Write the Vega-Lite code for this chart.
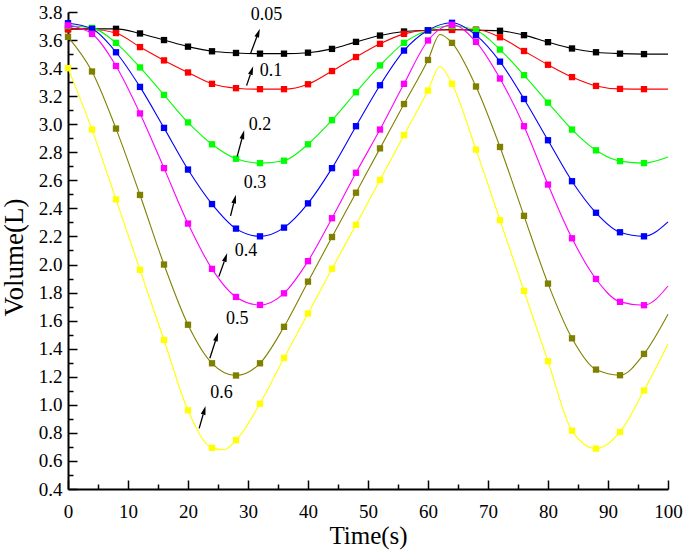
{
  "$schema": "https://vega.github.io/schema/vega-lite/v6.json",
  "width": 600,
  "height": 477,
  "autosize": {"type": "none"},
  "padding": {"left": 68, "top": 12, "right": 17, "bottom": 62},
  "background": "white",
  "config": {
    "view": {"stroke": null},
    "axis": {
      "labelFont": "Liberation Serif",
      "titleFont": "Liberation Serif",
      "labelColor": "black",
      "titleColor": "black",
      "titleFontWeight": "normal",
      "domainColor": "black",
      "tickColor": "black",
      "grid": false
    }
  },
  "datasets": {
    "curves": [
      {"s":"0.05","kind":"sample","t":0,"v":3.68},{"s":"0.05","kind":"sample","t":4,"v":3.68},{"s":"0.05","kind":"sample","t":8,"v":3.68},{"s":"0.05","kind":"sample","t":12,"v":3.647},{"s":"0.05","kind":"sample","t":16,"v":3.6},{"s":"0.05","kind":"sample","t":20,"v":3.553},{"s":"0.05","kind":"sample","t":24,"v":3.52},{"s":"0.05","kind":"sample","t":28,"v":3.508},{"s":"0.05","kind":"sample","t":32,"v":3.503},{"s":"0.05","kind":"sample","t":36,"v":3.503},{"s":"0.05","kind":"sample","t":40,"v":3.51},{"s":"0.05","kind":"sample","t":44,"v":3.537},{"s":"0.05","kind":"sample","t":48,"v":3.587},{"s":"0.05","kind":"sample","t":52,"v":3.632},{"s":"0.05","kind":"sample","t":56,"v":3.661},{"s":"0.05","kind":"sample","t":60,"v":3.67},{"s":"0.05","kind":"sample","t":64,"v":3.675},{"s":"0.05","kind":"sample","t":68,"v":3.67},{"s":"0.05","kind":"sample","t":72,"v":3.666},{"s":"0.05","kind":"sample","t":76,"v":3.635},{"s":"0.05","kind":"sample","t":80,"v":3.585},{"s":"0.05","kind":"sample","t":84,"v":3.54},{"s":"0.05","kind":"sample","t":88,"v":3.513},{"s":"0.05","kind":"sample","t":92,"v":3.503},{"s":"0.05","kind":"sample","t":96,"v":3.5},{"s":"0.05","kind":"fit","t":100,"v":3.5},

      {"s":"0.1","kind":"sample","t":0,"v":3.675},{"s":"0.1","kind":"sample","t":4,"v":3.675},{"s":"0.1","kind":"sample","t":8,"v":3.65},{"s":"0.1","kind":"sample","t":12,"v":3.55},{"s":"0.1","kind":"sample","t":16,"v":3.455},{"s":"0.1","kind":"sample","t":20,"v":3.369},{"s":"0.1","kind":"sample","t":24,"v":3.288},{"s":"0.1","kind":"sample","t":28,"v":3.257},{"s":"0.1","kind":"sample","t":32,"v":3.25},{"s":"0.1","kind":"sample","t":36,"v":3.25},{"s":"0.1","kind":"sample","t":40,"v":3.285},{"s":"0.1","kind":"sample","t":44,"v":3.379},{"s":"0.1","kind":"sample","t":48,"v":3.479},{"s":"0.1","kind":"sample","t":52,"v":3.573},{"s":"0.1","kind":"sample","t":56,"v":3.644},{"s":"0.1","kind":"sample","t":60,"v":3.67},{"s":"0.1","kind":"sample","t":64,"v":3.672},{"s":"0.1","kind":"sample","t":68,"v":3.675},{"s":"0.1","kind":"sample","t":72,"v":3.62},{"s":"0.1","kind":"sample","t":76,"v":3.522},{"s":"0.1","kind":"sample","t":80,"v":3.424},{"s":"0.1","kind":"sample","t":84,"v":3.336},{"s":"0.1","kind":"sample","t":88,"v":3.273},{"s":"0.1","kind":"sample","t":92,"v":3.252},{"s":"0.1","kind":"sample","t":96,"v":3.25},{"s":"0.1","kind":"fit","t":100,"v":3.25},

      {"s":"0.2","kind":"sample","t":0,"v":3.7},{"s":"0.2","kind":"sample","t":4,"v":3.687},{"s":"0.2","kind":"sample","t":8,"v":3.58},{"s":"0.2","kind":"sample","t":12,"v":3.405},{"s":"0.2","kind":"sample","t":16,"v":3.209},{"s":"0.2","kind":"sample","t":20,"v":3.013},{"s":"0.2","kind":"sample","t":24,"v":2.857},{"s":"0.2","kind":"sample","t":28,"v":2.754},{"s":"0.2","kind":"sample","t":32,"v":2.723},{"s":"0.2","kind":"sample","t":36,"v":2.74},{"s":"0.2","kind":"sample","t":40,"v":2.857},{"s":"0.2","kind":"sample","t":44,"v":3.029},{"s":"0.2","kind":"sample","t":48,"v":3.228},{"s":"0.2","kind":"sample","t":52,"v":3.419},{"s":"0.2","kind":"sample","t":56,"v":3.58},{"s":"0.2","kind":"sample","t":60,"v":3.67},{"s":"0.2","kind":"sample","t":64,"v":3.7},{"s":"0.2","kind":"sample","t":68,"v":3.67},{"s":"0.2","kind":"sample","t":72,"v":3.532},{"s":"0.2","kind":"sample","t":76,"v":3.35},{"s":"0.2","kind":"sample","t":80,"v":3.154},{"s":"0.2","kind":"sample","t":84,"v":2.962},{"s":"0.2","kind":"sample","t":88,"v":2.814},{"s":"0.2","kind":"sample","t":92,"v":2.737},{"s":"0.2","kind":"sample","t":96,"v":2.723},{"s":"0.2","kind":"fit","t":100,"v":2.766},

      {"s":"0.3","kind":"sample","t":0,"v":3.72},{"s":"0.3","kind":"sample","t":4,"v":3.68},{"s":"0.3","kind":"sample","t":8,"v":3.513},{"s":"0.3","kind":"sample","t":12,"v":3.266},{"s":"0.3","kind":"sample","t":16,"v":2.974},{"s":"0.3","kind":"sample","t":20,"v":2.677},{"s":"0.3","kind":"sample","t":24,"v":2.431},{"s":"0.3","kind":"sample","t":28,"v":2.256},{"s":"0.3","kind":"sample","t":32,"v":2.201},{"s":"0.3","kind":"sample","t":36,"v":2.263},{"s":"0.3","kind":"sample","t":40,"v":2.436},{"s":"0.3","kind":"sample","t":44,"v":2.687},{"s":"0.3","kind":"sample","t":48,"v":2.986},{"s":"0.3","kind":"sample","t":52,"v":3.278},{"s":"0.3","kind":"sample","t":56,"v":3.525},{"s":"0.3","kind":"sample","t":60,"v":3.67},{"s":"0.3","kind":"sample","t":64,"v":3.723},{"s":"0.3","kind":"sample","t":68,"v":3.635},{"s":"0.3","kind":"sample","t":72,"v":3.446},{"s":"0.3","kind":"sample","t":76,"v":3.18},{"s":"0.3","kind":"sample","t":80,"v":2.886},{"s":"0.3","kind":"sample","t":84,"v":2.594},{"s":"0.3","kind":"sample","t":88,"v":2.369},{"s":"0.3","kind":"sample","t":92,"v":2.23},{"s":"0.3","kind":"sample","t":96,"v":2.201},{"s":"0.3","kind":"fit","t":100,"v":2.304},

      {"s":"0.4","kind":"sample","t":0,"v":3.705},{"s":"0.4","kind":"sample","t":4,"v":3.644},{"s":"0.4","kind":"sample","t":8,"v":3.415},{"s":"0.4","kind":"sample","t":12,"v":3.077},{"s":"0.4","kind":"sample","t":16,"v":2.687},{"s":"0.4","kind":"sample","t":20,"v":2.292},{"s":"0.4","kind":"sample","t":24,"v":1.969},{"s":"0.4","kind":"sample","t":28,"v":1.769},{"s":"0.4","kind":"sample","t":32,"v":1.712},{"s":"0.4","kind":"sample","t":36,"v":1.795},{"s":"0.4","kind":"sample","t":40,"v":2.024},{"s":"0.4","kind":"sample","t":44,"v":2.33},{"s":"0.4","kind":"sample","t":48,"v":2.654},{"s":"0.4","kind":"sample","t":52,"v":2.962},{"s":"0.4","kind":"sample","t":56,"v":3.288},{"s":"0.4","kind":"sample","t":60,"v":3.597},{"s":"0.4","kind":"sample","t":64,"v":3.709},{"s":"0.4","kind":"sample","t":68,"v":3.587},{"s":"0.4","kind":"sample","t":72,"v":3.326},{"s":"0.4","kind":"sample","t":76,"v":2.986},{"s":"0.4","kind":"sample","t":80,"v":2.57},{"s":"0.4","kind":"sample","t":84,"v":2.187},{"s":"0.4","kind":"sample","t":88,"v":1.897},{"s":"0.4","kind":"sample","t":92,"v":1.734},{"s":"0.4","kind":"sample","t":96,"v":1.71},{"s":"0.4","kind":"fit","t":100,"v":1.847},

      {"s":"0.5","kind":"sample","t":0,"v":3.623},{"s":"0.5","kind":"sample","t":4,"v":3.376},{"s":"0.5","kind":"sample","t":8,"v":2.969},{"s":"0.5","kind":"sample","t":12,"v":2.496},{"s":"0.5","kind":"sample","t":16,"v":2.0},{"s":"0.5","kind":"sample","t":20,"v":1.571},{"s":"0.5","kind":"sample","t":24,"v":1.296},{"s":"0.5","kind":"sample","t":28,"v":1.209},{"s":"0.5","kind":"sample","t":32,"v":1.296},{"s":"0.5","kind":"sample","t":36,"v":1.556},{"s":"0.5","kind":"sample","t":40,"v":1.878},{"s":"0.5","kind":"sample","t":44,"v":2.196},{"s":"0.5","kind":"sample","t":48,"v":2.512},{"s":"0.5","kind":"sample","t":52,"v":2.828},{"s":"0.5","kind":"sample","t":56,"v":3.144},{"s":"0.5","kind":"sample","t":60,"v":3.458},{"s":"0.5","kind":"fit","t":62,"v":3.64},{"s":"0.5","kind":"sample","t":64,"v":3.58},{"s":"0.5","kind":"sample","t":68,"v":3.269},{"s":"0.5","kind":"sample","t":72,"v":2.838},{"s":"0.5","kind":"sample","t":76,"v":2.347},{"s":"0.5","kind":"sample","t":80,"v":1.864},{"s":"0.5","kind":"sample","t":84,"v":1.474},{"s":"0.5","kind":"sample","t":88,"v":1.251},{"s":"0.5","kind":"sample","t":92,"v":1.211},{"s":"0.5","kind":"sample","t":96,"v":1.363},{"s":"0.5","kind":"fit","t":100,"v":1.646},

      {"s":"0.6","kind":"sample","t":0,"v":3.4},{"s":"0.6","kind":"sample","t":4,"v":2.962},{"s":"0.6","kind":"sample","t":8,"v":2.464},{"s":"0.6","kind":"sample","t":12,"v":1.962},{"s":"0.6","kind":"sample","t":16,"v":1.462},{"s":"0.6","kind":"sample","t":20,"v":0.961},{"s":"0.6","kind":"sample","t":24,"v":0.693},{"s":"0.6","kind":"fit","t":26,"v":0.68},{"s":"0.6","kind":"sample","t":28,"v":0.748},{"s":"0.6","kind":"sample","t":32,"v":1.008},{"s":"0.6","kind":"sample","t":36,"v":1.334},{"s":"0.6","kind":"sample","t":40,"v":1.651},{"s":"0.6","kind":"sample","t":44,"v":1.97},{"s":"0.6","kind":"sample","t":48,"v":2.283},{"s":"0.6","kind":"sample","t":52,"v":2.603},{"s":"0.6","kind":"sample","t":56,"v":2.922},{"s":"0.6","kind":"sample","t":60,"v":3.24},{"s":"0.6","kind":"fit","t":62,"v":3.412},{"s":"0.6","kind":"sample","t":64,"v":3.288},{"s":"0.6","kind":"sample","t":68,"v":2.819},{"s":"0.6","kind":"sample","t":72,"v":2.316},{"s":"0.6","kind":"sample","t":76,"v":1.812},{"s":"0.6","kind":"sample","t":80,"v":1.31},{"s":"0.6","kind":"sample","t":84,"v":0.816},{"s":"0.6","kind":"sample","t":88,"v":0.688},{"s":"0.6","kind":"sample","t":92,"v":0.807},{"s":"0.6","kind":"sample","t":96,"v":1.102},{"s":"0.6","kind":"fit","t":100,"v":1.433}
    ],
    "notes": [
      {"label":"0.05","lt":33.1,"lv":3.782,"at":30.43,"av":3.504,"bt":31.46,"bv":3.622,"ang":20.6},
      {"label":"0.1","lt":33.82,"lv":3.377,"at":29.76,"av":3.275,"bt":30.39,"bv":3.354,"ang":18.9},
      {"label":"0.2","lt":31.98,"lv":2.997,"at":28.2,"av":2.771,"bt":28.98,"bv":2.896,"ang":15.1},
      {"label":"0.3","lt":31.15,"lv":2.581,"at":27.09,"av":2.347,"bt":27.62,"bv":2.437,"ang":14.2},
      {"label":"0.4","lt":29.65,"lv":2.1,"at":25.14,"av":1.914,"bt":26.04,"bv":2.022,"ang":19.5},
      {"label":"0.5","lt":28.19,"lv":1.612,"at":23.64,"av":1.332,"bt":24.57,"bv":1.455,"ang":17.9},
      {"label":"0.6","lt":25.59,"lv":1.086,"at":21.86,"av":0.832,"bt":22.52,"bv":0.931,"ang":16.0}
    ]
  },
  "resolve": {"axis": {"x": "independent", "y": "independent"}},
  "layer": [
    {
      "data": {"name": "curves"},
      "mark": {"type": "line", "interpolate": "monotone", "strokeWidth": 1.1},
      "encoding": {
        "x": {
          "field": "t", "type": "quantitative",
          "scale": {"domain": [0, 100], "nice": false, "zero": false},
          "axis": {
            "orient": "bottom", "title": "Time(s)",
            "values": [0,10,20,30,40,50,60,70,80,90,100],
            "format": "d", "tickSize": -9, "tickWidth": 1.5, "domainWidth": 2,
            "labelFontSize": 19, "labelPadding": 22, "labelFlush": false,
            "titleFontSize": 25, "titlePadding": 2
          }
        },
        "y": {
          "field": "v", "type": "quantitative",
          "scale": {"domain": [0.4, 3.8], "nice": false, "zero": false},
          "axis": {
            "orient": "left", "title": "Volume(L)",
            "values": [0.4,0.6,0.8,1.0,1.2,1.4,1.6,1.8,2.0,2.2,2.4,2.6,2.8,3.0,3.2,3.4,3.6,3.8],
            "format": ".1f", "tickSize": -9, "tickWidth": 1.5, "domainWidth": 2,
            "labelFontSize": 19, "labelPadding": 15, "labelFlush": false,
            "titleFontSize": 27, "titleAngle": -90, "titleBaseline": "middle",
            "titleX": -54, "titleY": 245
          }
        },
        "color": {
          "field": "s", "type": "nominal",
          "scale": {"domain": ["0.05","0.1","0.2","0.3","0.4","0.5","0.6"],
                    "range": ["#000000","#FF0000","#00FF00","#0000FF","#FF00FF","#808000","#FFFF00"]},
          "legend": null
        },
        "detail": {"field": "s"}
      }
    },
    {
      "data": {"name": "curves"},
      "transform": [{"filter": "datum.kind == 'sample'"}],
      "mark": {"type": "point", "shape": "square", "filled": true, "size": 40, "opacity": 1},
      "encoding": {
        "x": {
          "field": "t", "type": "quantitative",
          "axis": {
            "orient": "bottom", "title": null, "labels": false, "domain": false,
            "values": [5,15,25,35,45,55,65,75,85,95],
            "tickSize": -5, "tickWidth": 1.5
          }
        },
        "y": {
          "field": "v", "type": "quantitative",
          "axis": {
            "orient": "left", "title": null, "labels": false, "domain": false,
            "values": [0.5,0.7,0.9,1.1,1.3,1.5,1.7,1.9,2.1,2.3,2.5,2.7,2.9,3.1,3.3,3.5,3.7],
            "tickSize": -5, "tickWidth": 1.5
          }
        },
        "color": {"field": "s", "type": "nominal", "legend": null}
      }
    },
    {
      "data": {"name": "notes"},
      "mark": {"type": "rule", "color": "black", "strokeWidth": 1.3},
      "encoding": {
        "x": {"field": "at", "type": "quantitative", "axis": null},
        "y": {"field": "av", "type": "quantitative", "axis": null},
        "x2": {"field": "bt"},
        "y2": {"field": "bv"}
      }
    },
    {
      "data": {"name": "notes"},
      "mark": {"type": "point", "shape": "M0,-2.2L0.6,0L-0.6,0Z", "filled": true, "size": 64, "color": "black", "opacity": 1, "strokeWidth": 0},
      "encoding": {
        "x": {"field": "bt", "type": "quantitative", "axis": null},
        "y": {"field": "bv", "type": "quantitative", "axis": null},
        "angle": {"field": "ang", "type": "quantitative", "scale": null}
      }
    },
    {
      "data": {"name": "notes"},
      "mark": {"type": "text", "font": "Liberation Serif", "fontSize": 18, "color": "black", "align": "center", "baseline": "middle"},
      "encoding": {
        "x": {"field": "lt", "type": "quantitative", "axis": null},
        "y": {"field": "lv", "type": "quantitative", "axis": null},
        "text": {"field": "label"}
      }
    }
  ]
}
